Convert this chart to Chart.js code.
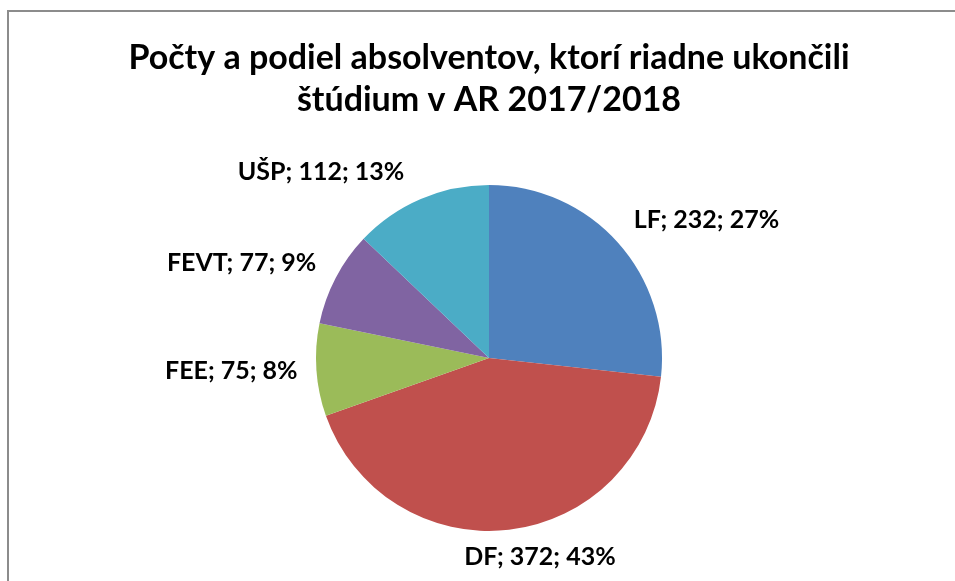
<!DOCTYPE html>
<html>
<head>
<meta charset="utf-8">
<script src="https://cdn.jsdelivr.net/npm/chart.js@4/dist/chart.umd.min.js"></script>
<style>
  html, body { margin: 0; padding: 0; background: #ffffff; }
  #wrap { width: 955px; height: 581px; position: relative; }
</style>
</head>
<body>
<div id="wrap"><canvas id="c" width="955" height="581"></canvas></div>
<script>
// ---- data ----
const categories = ["LF", "DF", "FEE", "FEVT", "UŠP"];
const counts = [232, 372, 75, 77, 112];
const percentLabels = ["27%", "43%", "8%", "9%", "13%"];
const titleLines = ["Počty a podiel absolventov, ktorí riadne ukončili", "štúdium v AR 2017/2018"];
const sliceColors = ["#4F81BD", "#C0504D", "#9BBB59", "#8064A2", "#4BACC6"];

const FONT = "Lato, 'Open Sans', sans-serif";

const framePlugin = {
  id: 'frame',
  beforeDraw(chart) {
    const ctx = chart.ctx;
    ctx.save();
    ctx.fillStyle = '#ffffff';
    ctx.fillRect(0, 0, chart.width, chart.height);
    ctx.strokeStyle = '#8c8c8c';
    ctx.lineWidth = 2;
    ctx.beginPath();
    ctx.moveTo(chart.width + 5, 11);
    ctx.lineTo(8, 11);
    ctx.lineTo(8, chart.height + 5);
    ctx.stroke();
    ctx.restore();
  }
};

const labelPlugin = {
  id: 'outLabels',
  afterDatasetsDraw(chart, args, opts) {
    const ctx = chart.ctx;
    const meta = chart.getDatasetMeta(0);
    ctx.save();
    ctx.font = opts.font;
    ctx.fillStyle = '#000000';
    ctx.textAlign = 'center';
    ctx.textBaseline = 'middle';
    meta.data.forEach((arc, i) => {
      const p = arc.getProps(['x', 'y', 'startAngle', 'endAngle', 'outerRadius'], true);
      const mid = (p.startAngle + p.endAngle) / 2;
      const c = Math.cos(mid), s = Math.sin(mid);
      const r = p.outerRadius + opts.gap;
      const text = categories[i] + '; ' + counts[i] + '; ' + percentLabels[i];
      const w = ctx.measureText(text).width;
      const h = opts.boxHeight;
      const nudge = (opts.nudges && opts.nudges[i]) || [0, 0];
      const cx = p.x + r * c + (w / 2) * c + nudge[0];
      const cy = p.y + r * s + (h / 2) * s + nudge[1];
      ctx.fillText(text, cx, cy);
    });
    ctx.restore();
  }
};

new Chart(document.getElementById('c'), {
  type: 'pie',
  data: {
    labels: categories,
    datasets: [{
      data: counts,
      backgroundColor: sliceColors,
      borderWidth: 0
    }]
  },
  options: {
    responsive: false,
    animation: false,
    layout: { padding: { left: 23, right: 0, top: 0, bottom: 50 } },
    plugins: {
      legend: { display: false },
      tooltip: { enabled: false },
      title: {
        display: true,
        text: titleLines,
        color: '#000000',
        font: { family: FONT, size: 34, weight: 'bold', lineHeight: 1.235 },
        padding: { top: 37, bottom: 64 }
      },
      outLabels: {
        font: "bold 25px " + FONT,
        gap: 10,
        boxHeight: 25,
        nudges: [[27, -8], [21, 5], [-9, 0], [-19, -5], [-63, -6]]
      }
    }
  },
  plugins: [framePlugin, labelPlugin]
});
</script>
</body>
</html>
